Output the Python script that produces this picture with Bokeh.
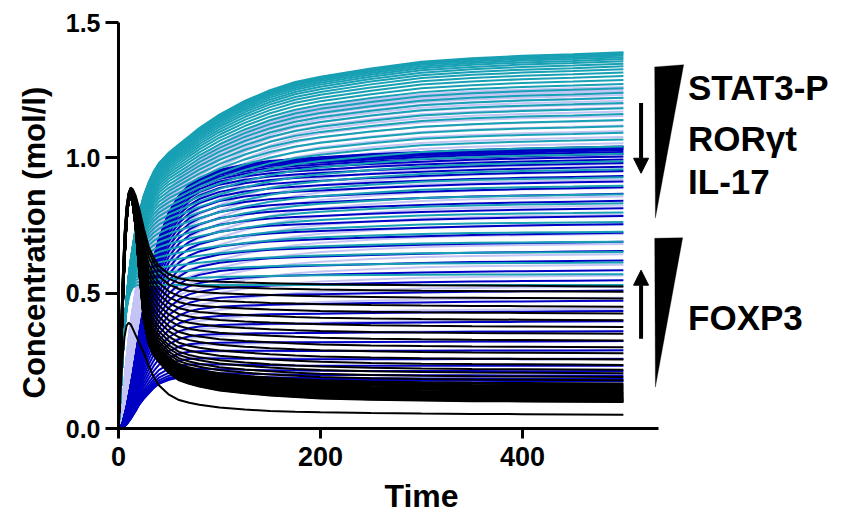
import numpy as np
from bokeh.plotting import figure
from bokeh.models import (FixedTicker, NumeralTickFormatter, Label, Arrow, NormalHead,
                          PolyAnnotation, ColumnDataSource, Title)
from bokeh.embed import file_html
from bokeh.resources import INLINE

# ---------------- data ----------------
time_pts = [0, 2, 4, 6, 8, 10, 12, 14, 17, 20, 25, 30, 35, 40, 50, 60, 70, 80,
            100, 125, 150, 175, 200, 250, 300, 350, 400, 450, 500]

# STAT3-P like family (teal): highest and lowest curves
teal_top = [0, 0.12, 0.26, 0.38, 0.48, 0.56, 0.62, 0.67, 0.74, 0.79, 0.86, 0.91, 0.95, 0.98,
            1.02, 1.05, 1.08, 1.11, 1.16, 1.21, 1.25, 1.28, 1.30, 1.33, 1.355, 1.368,
            1.377, 1.383, 1.390]
teal_bottom = [0, 0.12, 0.26, 0.37, 0.44, 0.48, 0.505, 0.52, 0.528, 0.53, 0.53, 0.53, 0.53,
               0.53, 0.53, 0.53, 0.53, 0.53, 0.53, 0.53, 0.53, 0.53, 0.53, 0.53, 0.53,
               0.53, 0.53, 0.53, 0.53]
teal_final = [1.390, 1.387, 1.383, 1.378, 1.372, 1.365, 1.357, 1.348, 1.338, 1.327,
              1.315, 1.302, 1.288, 1.273, 1.257, 1.240, 1.222, 1.203, 1.183, 1.162,
              1.140, 1.117, 1.093, 1.068, 1.042, 1.015, 0.987, 0.958, 0.928, 0.897,
              0.865, 0.832, 0.798, 0.763, 0.727, 0.690, 0.652, 0.613, 0.570, 0.530]

# RORgt like family (lavender)
lav_top = [0, 0.03, 0.10, 0.18, 0.26, 0.33, 0.39, 0.44, 0.51, 0.57, 0.65, 0.72, 0.77, 0.81,
           0.88, 0.93, 0.97, 1.00, 1.05, 1.10, 1.14, 1.17, 1.19, 1.215, 1.235, 1.245,
           1.252, 1.257, 1.262]
lav_bottom = [0, 0.01, 0.04, 0.08, 0.13, 0.17, 0.20, 0.225, 0.25, 0.265, 0.275, 0.275,
              0.272, 0.27, 0.267, 0.265, 0.264, 0.263, 0.262, 0.261, 0.261, 0.26, 0.26,
              0.26, 0.26, 0.26, 0.26, 0.26, 0.26]
lav_final = [1.262, 1.258, 1.253, 1.247, 1.240, 1.232, 1.222, 1.211, 1.199, 1.186,
             1.171, 1.155, 1.138, 1.119, 1.099, 1.077, 1.054, 1.030, 1.004, 0.977,
             0.949, 0.920, 0.889, 0.857, 0.824, 0.790, 0.755, 0.719, 0.682, 0.644,
             0.605, 0.565, 0.524, 0.483, 0.442, 0.401, 0.361, 0.322, 0.288, 0.260]

# IL-17 like family (blue)
blue_top = [0, 0.005, 0.02, 0.05, 0.08, 0.12, 0.16, 0.20, 0.27, 0.34, 0.45, 0.55, 0.63, 0.70,
            0.80, 0.86, 0.90, 0.925, 0.955, 0.975, 0.988, 0.996, 1.002, 1.013, 1.022,
            1.029, 1.034, 1.038, 1.042]
blue_bottom = [0, 0.0, 0.003, 0.008, 0.015, 0.025, 0.035, 0.047, 0.065, 0.085, 0.11, 0.13,
               0.15, 0.165, 0.18, 0.188, 0.19, 0.189, 0.186, 0.183, 0.181, 0.179, 0.178,
               0.177, 0.176, 0.176, 0.175, 0.175, 0.175]
blue_final = [1.042, 1.040, 1.037, 1.033, 1.028, 1.022, 1.014, 1.005, 0.994, 0.981,
              0.967, 0.951, 0.933, 0.913, 0.891, 0.867, 0.841, 0.814, 0.785, 0.755,
              0.723, 0.690, 0.656, 0.621, 0.585, 0.548, 0.510, 0.472, 0.434, 0.396,
              0.359, 0.323, 0.289, 0.257, 0.232, 0.212, 0.196, 0.184, 0.178, 0.175]

# FOXP3 like family (black)
black_top = [0, 0.30, 0.54, 0.72, 0.82, 0.87, 0.89, 0.885, 0.86, 0.82, 0.74, 0.67, 0.63,
             0.60, 0.57, 0.555, 0.548, 0.545, 0.542, 0.539, 0.537, 0.535, 0.533, 0.531,
             0.529, 0.528, 0.527, 0.526, 0.525]
black_bottom = [0, 0.20, 0.42, 0.62, 0.76, 0.84, 0.86, 0.83, 0.74, 0.60, 0.40, 0.31, 0.27,
                0.245, 0.205, 0.178, 0.165, 0.155, 0.14, 0.13, 0.122, 0.116, 0.111, 0.106,
                0.103, 0.101, 0.100, 0.099, 0.098]
black_final = [0.098, 0.100, 0.102, 0.104, 0.106, 0.108, 0.110, 0.113, 0.116, 0.119,
               0.122, 0.125, 0.128, 0.131, 0.134, 0.138, 0.142, 0.146, 0.150, 0.154,
               0.158, 0.162, 0.166, 0.178, 0.190, 0.204, 0.217, 0.235, 0.255, 0.278,
               0.300, 0.325, 0.350, 0.375, 0.400, 0.425, 0.450, 0.480, 0.505, 0.525]

# separate low black curve
black_low = [0, 0.14, 0.26, 0.34, 0.38, 0.39, 0.385, 0.37, 0.345, 0.32, 0.28, 0.23, 0.19,
             0.16, 0.125, 0.105, 0.095, 0.088, 0.078, 0.07, 0.065, 0.062, 0.06, 0.057,
             0.055, 0.054, 0.053, 0.052, 0.051]

x_ticks = [0, 200, 400]
y_ticks = [0, 0.5, 1.0, 1.5]
side_labels = ["STAT3-P", "RORγt", "IL-17", "FOXP3"]

TEAL = "#18A0B4"
LAV = "#C4C4F5"
BLUE = "#0000C4"
BLACK = "#000000"
FONT = "Liberation Sans"


def family(finals, top, bottom):
    top = np.asarray(top, float)
    bottom = np.asarray(bottom, float)
    ft, fb = top[-1], bottom[-1]
    out = []
    for f in finals:
        w = (f - fb) / (ft - fb)
        out.append(list(w * top + (1 - w) * bottom))
    return out


xs, ys, cols = [], [], []
for finals, top, bottom, col in ((lav_final, lav_top, lav_bottom, LAV),
                                 (blue_final, blue_top, blue_bottom, BLUE),
                                 (teal_final, teal_top, teal_bottom, TEAL),
                                 (black_final, black_top, black_bottom, BLACK)):
    for curve in family(finals, top, bottom):
        xs.append(time_pts)
        ys.append(curve)
        cols.append(col)
xs.append(time_pts)
ys.append(black_low)
cols.append(BLACK)

src = ColumnDataSource(dict(xs=xs, ys=ys, color=cols))

# ---------------- figure ----------------
p = figure(width=848, height=520, output_backend="svg", toolbar_location=None,
           x_range=(0, 715), y_range=(0, 1.5),
           min_border_left=118, min_border_right=8, min_border_top=22, min_border_bottom=92)
p.outline_line_color = None
p.grid.visible = False

p.multi_line(xs="xs", ys="ys", line_color="color", line_width=2, source=src)

for ax in (p.xaxis[0], p.yaxis[0]):
    ax.axis_line_width = 3
    ax.major_tick_line_width = 3
    ax.major_tick_in = 0
    ax.minor_tick_line_color = None
    ax.major_label_text_font = FONT
    ax.major_label_text_font_style = "bold"
    ax.major_label_text_color = "black"

p.xaxis.ticker = FixedTicker(ticks=x_ticks)
p.xaxis.bounds = (0, 535)
p.xaxis.major_tick_out = 10
p.xaxis.major_label_standoff = 8
p.xaxis.major_label_text_font_size = "27px"

p.yaxis.ticker = FixedTicker(ticks=y_ticks)
p.yaxis.formatter = NumeralTickFormatter(format="0.0")
p.yaxis.major_tick_out = 13
p.yaxis.major_label_standoff = 5
p.yaxis.major_label_text_font_size = "25px"

p.add_layout(Title(text="Time", align="left", offset=266, standoff=14,
                   text_font=FONT, text_font_style="bold", text_font_size="32px",
                   text_color="black"), "below")
p.add_layout(Title(text="Concentration (mol/l)", align="left", offset=30, standoff=22,
                   text_font=FONT, text_font_style="bold", text_font_size="31px",
                   text_color="black"), "left")

# right-hand annotation: wedges, arrows and labels
p.add_layout(PolyAnnotation(xs=[531.0, 559.7, 531.7], ys=[1.336, 1.344, 0.778],
                            fill_color="black", fill_alpha=1, line_color="black", line_width=1))
p.add_layout(PolyAnnotation(xs=[531.0, 558.7, 531.7], ys=[0.703, 0.705, 0.153],
                            fill_color="black", fill_alpha=1, line_color="black", line_width=1))
p.add_layout(Arrow(x_start=517.5, y_start=1.203, x_end=517.5, y_end=0.943, line_width=4,
                   end=NormalHead(size=15, fill_color="black", line_color="black")))
p.add_layout(Arrow(x_start=517.5, y_start=0.332, x_end=517.5, y_end=0.585, line_width=4,
                   end=NormalHead(size=15, fill_color="black", line_color="black")))

for txt, yv in zip(side_labels, (1.259, 1.072, 0.911, 0.411)):
    p.add_layout(Label(x=564, y=yv, text=txt, text_font=FONT, text_font_style="bold",
                       text_color="black", text_font_size="35px", text_align="left",
                       text_baseline="alphabetic"))

open("out.html", "w").write(file_html(p, INLINE))
